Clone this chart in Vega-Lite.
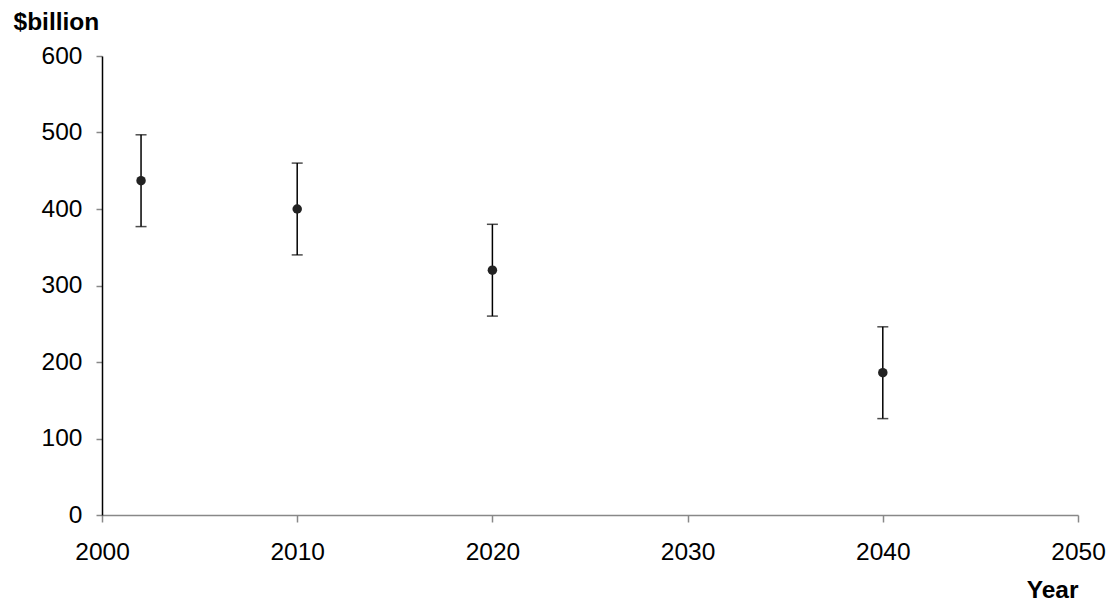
{
  "$schema": "https://vega.github.io/schema/vega-lite/v6.json",
  "width": 976,
  "height": 459,
  "autosize": {"type": "none"},
  "padding": {"left": 102, "top": 56, "right": 38, "bottom": 93},
  "background": "white",
  "config": {
    "view": {"stroke": null},
    "font": "Liberation Sans",
    "axis": {"grid": false, "labelFlush": false, "labelOverlap": false, "labelFont": "Liberation Sans", "labelFontSize": 24.5, "labelColor": "#000", "titleFont": "Liberation Sans", "titleFontSize": 24.5, "titleFontWeight": "bold", "titleColor": "#000"}
  },
  "data": {"values": [
    {"year": 2002, "value": 437, "lo": 377, "hi": 497},
    {"year": 2010, "value": 400, "lo": 340, "hi": 460},
    {"year": 2020, "value": 320, "lo": 260, "hi": 380},
    {"year": 2040, "value": 186, "lo": 126, "hi": 246}
  ]},
  "layer": [
    {
      "mark": {"type": "rule", "color": "#000", "strokeWidth": 1.5},
      "encoding": {
        "x": {"field": "year", "type": "quantitative", "scale": {"domain": [2000, 2050], "nice": false, "zero": false},
          "axis": {"values": [2000, 2010, 2020, 2030, 2040, 2050], "format": "d", "title": "Year", "titleAngle": 0, "titleAlign": "right", "titleBaseline": "middle", "titleX": 976, "titleY": 75, "domainColor": "#888", "domainWidth": 1.5, "tickColor": "#888", "tickSize": 7, "tickWidth": 1.5, "labelPadding": 18}},
        "y": {"field": "lo", "type": "quantitative", "scale": {"domain": [0, 600], "nice": false},
          "axis": {"values": [0, 100, 200, 300, 400, 500, 600], "title": "$billion", "titleAngle": 0, "titleAlign": "left", "titleBaseline": "middle", "titleX": -89, "titleY": -34, "domainColor": "#000", "domainWidth": 1.5, "tickColor": "#888", "tickSize": 6, "tickWidth": 1.5, "labelPadding": 14}},
        "y2": {"field": "hi"}
      }
    },
    {
      "mark": {"type": "tick", "orient": "horizontal", "color": "#000", "size": 11, "thickness": 1.5},
      "encoding": {
        "x": {"field": "year", "type": "quantitative"},
        "y": {"field": "hi", "type": "quantitative"}
      }
    },
    {
      "mark": {"type": "tick", "orient": "horizontal", "color": "#000", "size": 11, "thickness": 1.5},
      "encoding": {
        "x": {"field": "year", "type": "quantitative"},
        "y": {"field": "lo", "type": "quantitative"}
      }
    },
    {
      "mark": {"type": "point", "filled": true, "color": "#222", "size": 90, "opacity": 1},
      "encoding": {
        "x": {"field": "year", "type": "quantitative"},
        "y": {"field": "value", "type": "quantitative"}
      }
    }
  ]
}
